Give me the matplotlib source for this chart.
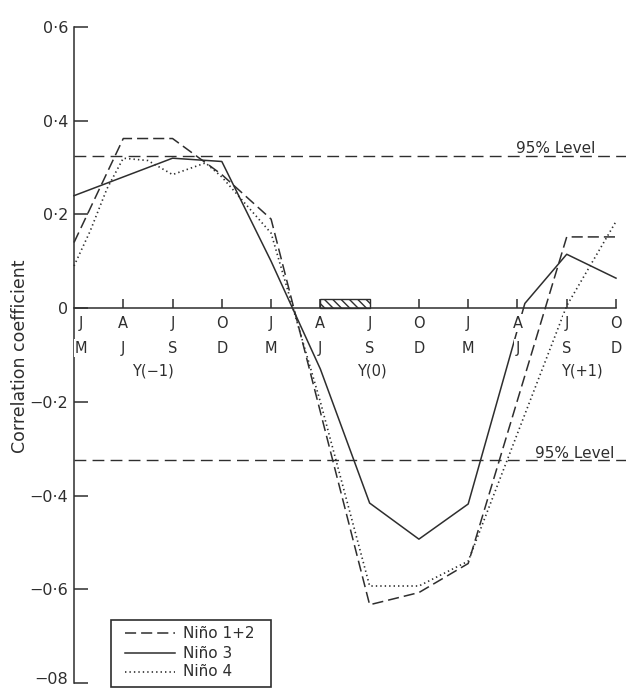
import matplotlib
matplotlib.use("Agg")
import matplotlib.pyplot as plt
from matplotlib.patches import Rectangle
from matplotlib.lines import Line2D

# ---------------- data ----------------
season_top = ['J', 'A', 'J', 'O', 'J', 'A', 'J', 'O', 'J', 'A', 'J', 'O']
season_bottom = ['M', 'J', 'S', 'D', 'M', 'J', 'S', 'D', 'M', 'J', 'S', 'D']
year_labels = ['Y(−1)', 'Y(0)', 'Y(+1)']
year_pos = [1.6, 6.05, 10.3]

ytick_vals = [0.6, 0.4, 0.2, 0.0, -0.2, -0.4, -0.6, -0.8]
ytick_labels = ['0·6', '0·4', '0·2', '0', '−0·2', '−0·4', '−0·6', '−08']

nino12_x = [0, 1, 2, 3, 4, 6, 7, 8, 10, 11]
nino12_y = [0.14, 0.362, 0.362, 0.285, 0.19, -0.633, -0.607, -0.545, 0.152, 0.152]

nino3_x = [0, 1, 2, 3, 4, 5, 6, 7, 8, 9.15, 10, 11]
nino3_y = [0.24, 0.28, 0.32, 0.313, 0.10, -0.13, -0.416, -0.493, -0.418, 0.01, 0.115, 0.064]

nino4_x = [0, 0.33, 0.67, 1, 1.5, 2, 2.67, 3, 4, 5, 6, 7, 8, 10, 11]
nino4_y = [0.09, 0.165, 0.255, 0.32, 0.315, 0.285, 0.31, 0.28, 0.16, -0.20,
           -0.593, -0.593, -0.54, 0.005, 0.185]

series_names = ['Niño 1+2', 'Niño 3', 'Niño 4']
level95 = 0.325
hatch_span = (5, 6)
hatch_height = 0.02

# ---------------- style ----------------
plt.rcParams['lines.scale_dashes'] = False
plt.rcParams['font.family'] = ['DejaVu Sans']
INK = '#2e2e2e'
W, H = 626, 688

fig = plt.figure(figsize=(W / 100, H / 100), dpi=100)
ax = fig.add_axes([74 / W, 5 / H, 542 / W, 656 / H])
ax.set_xlim(0, 11)
ax.set_ylim(-0.8, 0.6)

def fx(px):
    return px / W

def fy(py):
    return (H - py) / H

styles = [dict(dashes=(8, 3.6), lw=1.1),
          dict(linestyle='-', lw=1.1),
          dict(dashes=(1.0, 2.2), lw=1.2)]

for xs, ys, st in zip([nino12_x, nino3_x, nino4_x], [nino12_y, nino3_y, nino4_y], styles):
    ax.plot(xs, ys, color=INK, zorder=2, clip_on=False, **st)

# 95% level lines
for lv in (level95, -level95):
    ax.plot([0, 11.2], [lv, lv], color=INK, lw=1.0, dashes=(8.5, 4.5),
            clip_on=False, zorder=1.8)
ax.text(9.78, level95 + 0.007, '95% Level', ha='center', va='baseline',
        fontsize=11, color=INK)
ax.text(10.17, -level95 + 0.005, '95% Level', ha='center', va='baseline',
        fontsize=11, color=INK)

# hatched box
ax.add_patch(Rectangle((hatch_span[0], 0), hatch_span[1] - hatch_span[0], hatch_height,
                       facecolor='white', edgecolor=INK, hatch='\\\\\\\\', lw=1.0, zorder=2.2))

# spines
for s in ('top', 'right'):
    ax.spines[s].set_visible(False)
ax.spines['bottom'].set_position(('data', 0))
ax.spines['bottom'].set_bounds(0, 11)
ax.spines['left'].set_bounds(-0.8, 0.6)
for s in ('left', 'bottom'):
    ax.spines[s].set_color(INK)
    ax.spines[s].set_linewidth(1.1)

ax.set_yticks(ytick_vals)
ax.set_yticklabels(ytick_labels[:-1] + [''])
ax.tick_params(axis='y', direction='in', length=10, width=1.1, color=INK,
               labelsize=11.5, labelcolor=INK, pad=4)
# last y label lifted slightly so it stays inside the picture
ax.annotate(ytick_labels[-1], xy=(0, ytick_vals[-1]), xytext=(-6, 4),
            textcoords='offset pixels', ha='right', va='center', fontsize=11.5,
            color=INK, annotation_clip=False)

ax.set_xticks(list(range(1, 12)))
ax.set_xticklabels([''] * 11)
ax.tick_params(axis='x', direction='in', length=6.5, width=1.1, color=INK, pad=0)

box = dict(boxstyle='square,pad=0.08', fc='white', ec='none')
for i, (t, b) in enumerate(zip(season_top, season_bottom)):
    dx = 7 if i == 0 else 0
    ax.annotate(t, xy=(i, 0), xytext=(dx, -15), textcoords='offset pixels',
                ha='center', va='center', fontsize=10.5, color=INK, bbox=box, zorder=3)
    ax.annotate(b, xy=(i, 0), xytext=(dx, -40), textcoords='offset pixels',
                ha='center', va='center', fontsize=10.5, color=INK, bbox=box, zorder=3)
for lab, xp in zip(year_labels, year_pos):
    ax.annotate(lab, xy=(xp, 0), xytext=(0, -63), textcoords='offset pixels',
                ha='center', va='center', fontsize=10.5, color=INK, zorder=3)

fig.text(fx(20), fy(356), 'Correlation coefficient', rotation=90, ha='center',
         va='center', fontsize=12.5, color=INK)

# legend (manual box)
fig.add_artist(Rectangle((fx(111), fy(687)), fx(271) - fx(111), fy(620) - fy(687),
                         transform=fig.transFigure, facecolor='white',
                         edgecolor=INK, lw=1.2, zorder=5))
for (yc, name, st) in zip([633, 653, 672], series_names, styles):
    fig.add_artist(Line2D([fx(125), fx(175)], [fy(yc), fy(yc)], transform=fig.transFigure,
                          color=INK, zorder=6, **st))
    fig.text(fx(183), fy(yc), name, ha='left', va='center', fontsize=11,
             color=INK, zorder=6)

fig.savefig('out.png', dpi=100, facecolor='white')
